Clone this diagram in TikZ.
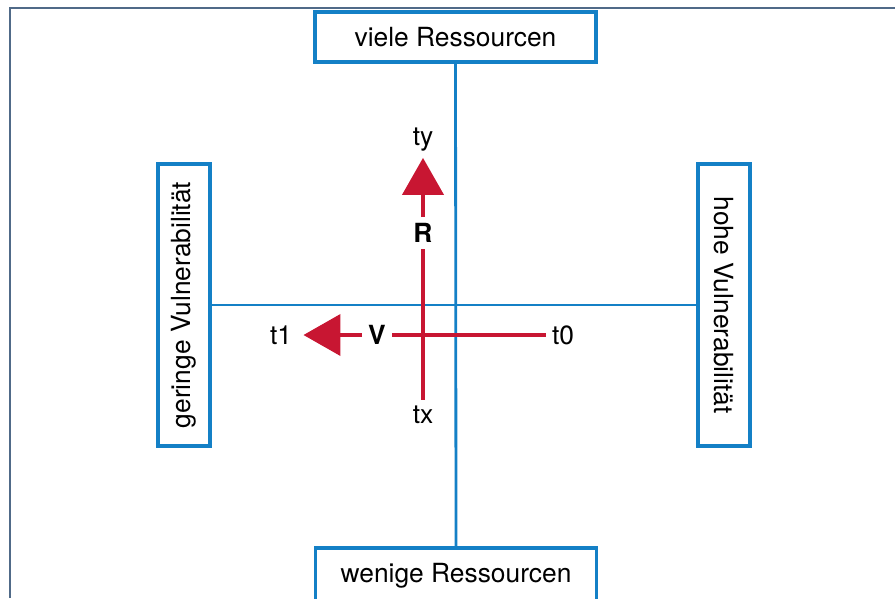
\documentclass[tikz,border=0pt]{standalone}
\usepackage{fontspec}
\setmainfont{TeX Gyre Heros}
\usetikzlibrary{arrows.meta}

\definecolor{axisblue}{RGB}{20,128,198}
\definecolor{trendred}{RGB}{200,22,50}
\definecolor{framegray}{RGB}{80,106,136}

\begin{document}
\begin{tikzpicture}[x=0.02cm,y=-0.02cm,font=\fontsize{15}{18}\selectfont,
  pole/.style={draw=axisblue,line width=2pt,fill=white,minimum width=5.62cm,minimum height=1cm,inner sep=0pt},
  axis/.style={axisblue,line width=1.6pt},
  trend/.style={trendred,line width=2.3pt},
  trendhead/.style={trend,-{Triangle[length=0.74cm,width=0.82cm]}}]
  \useasboundingbox (0,0) rectangle (895,598);
  \clip (0,0) rectangle (895,598);

  \draw[framegray,line width=1.1pt] (10,598) -- (10,8) -- (895,8);

  \node (viele) at (455.5,37) [pole] {viele Ressourcen};
  \node (wenige) at (456,575.5) [pole,minimum height=1.1cm] {wenige Ressourcen};
  \node (geringe) at (184,305) [pole,rotate=90,minimum width=5.64cm,minimum height=1.04cm] {geringe Vulnerabilität};
  \node (hohe) at (724,305) [pole,rotate=-90,minimum width=5.64cm,minimum height=1.04cm] {hohe Vulnerabilität};

  \draw[axis] (viele.south) -- (wenige.north);
  \draw[axis] (geringe.south) -- (hohe.south);

  \node (ty) at (423,140) {ty};
  \node (R) at (423,233) {\textbf{R}};
  \node (tx) at (423,415) {tx};
  \draw[trend] (tx.north) -- (R.south);
  \draw[trendhead] (R.north) -- (ty.south);

  \node (t0) at (563,335) {t0};
  \node (V) at (377,335) {\textbf{V}};
  \node (t1) at (281,335) {t1};
  \draw[trend] (t0.west) -- (V.east);
  \draw[trendhead,shorten >=3pt] (V.west) -- (t1.east);

\end{tikzpicture}
\end{document}
